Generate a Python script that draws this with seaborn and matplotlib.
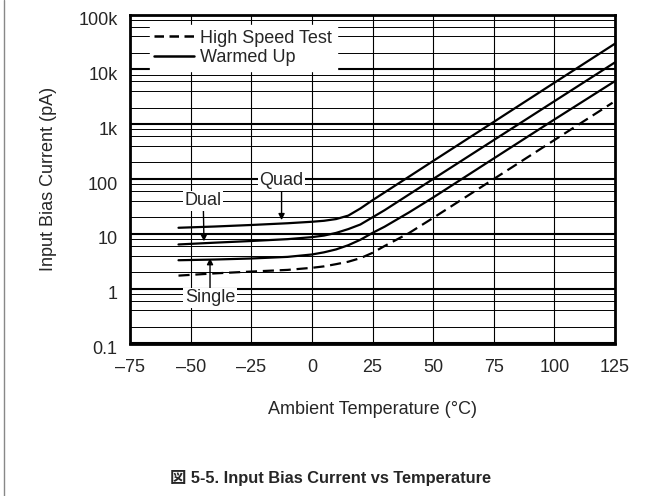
import numpy as np
import pandas as pd
import matplotlib
matplotlib.use("Agg")
import matplotlib.pyplot as plt
import matplotlib.ticker as mticker
import matplotlib.transforms as mtrans
from matplotlib.lines import Line2D
import seaborn as sns

# Curve data (temperature in C, current in pA)
temps = [-55, -40, -25, -10, 0, 5, 10, 15, 20, 25, 30, 40, 50, 75, 100, 125]
quad = [12.9, 13.6, 14.5, 15.6, 16.6, 17.3, 18.6, 21.5, 29, 41, 57, 110, 213, 1100, 5700, 29400]
dual = [6.4, 6.9, 7.4, 8.0, 8.7, 9.3, 10.4, 12.2, 14.8, 20, 27, 52, 100, 512, 2620, 13400]
single = [3.3, 3.4, 3.55, 3.8, 4.2, 4.6, 5.2, 6.2, 7.8, 10.4, 13.5, 24.5, 46, 237, 1216, 6100]

temps_hs = [-55, -40, -25, -10, 0, 5, 10, 15, 20, 25, 30, 40, 50, 75, 100, 124]
high_speed = [1.73, 1.9, 2.05, 2.2, 2.4, 2.55, 2.8, 3.1, 3.6, 4.5, 6.0, 10.3, 19.5, 100, 513, 2460]

x_ticks = [-75, -50, -25, 0, 25, 50, 75, 100, 125]
x_labels = ["\u201375", "\u201350", "\u201325", "0", "25", "50", "75", "100", "125"]
y_ticks = [0.1, 1, 10, 100, 1e3, 1e4, 1e5]
y_labels = ["0.1", "1", "10", "100", "1k", "10k", "100k"]

sns.set_style("white")
plt.rcParams["font.family"] = ["Liberation Sans", "Noto Sans CJK JP", "DejaVu Sans"]
plt.rcParams["font.size"] = 13

fig = plt.figure(figsize=(6.6, 4.96), dpi=100)
ax = fig.add_axes([130 / 660, 1 - 343.5 / 496, 485 / 660, 329 / 496])

# Curves
for vals in [quad, dual, single]:
    sns.lineplot(x=temps, y=vals, ax=ax, color="black", linewidth=1.6)
sns.lineplot(x=temps_hs, y=high_speed, ax=ax, color="black", linewidth=1.6)
ax.lines[-1].set_dashes((5, 2.6))

ax.set_yscale("log")
ax.set_xlim(-75, 125)
ax.set_ylim(0.1, 1e5)
ax.set_xticks(x_ticks)
ax.set_xticklabels(x_labels)
ax.set_yticks(y_ticks)
ax.set_yticklabels(y_labels)
ax.yaxis.set_minor_locator(mticker.LogLocator(base=10, subs=[2, 4, 6, 8], numticks=20))
ax.yaxis.set_minor_formatter(mticker.NullFormatter())
ax.tick_params(axis="both", which="both", length=0)
ax.tick_params(axis="x", pad=11)
ax.tick_params(axis="y", pad=9)

# grid
ax.grid(True, which="major", axis="y", color="black", linewidth=1.5)
ax.grid(True, which="minor", axis="y", color="black", linewidth=0.7)
ax.grid(True, which="major", axis="x", color="black", linewidth=0.8)
ax.set_axisbelow(True)
for s in ax.spines.values():
    s.set_visible(True)
    s.set_color("black")
    s.set_linewidth(2)

# shift y tick labels a little down like the original
off = mtrans.ScaledTranslation(0, -4 / 100, fig.dpi_scale_trans)
for lab in ax.get_yticklabels():
    lab.set_transform(lab.get_transform() + off)

ax.set_xlabel("Ambient Temperature (\u00b0C)", labelpad=18)
ax.set_ylabel("Input Bias Current (pA)", labelpad=15)

# legend
handles = [Line2D([], [], color="black", lw=1.8, dashes=(3.8, 2.2)),
           Line2D([], [], color="black", lw=1.8)]
leg = ax.legend(handles, ["High Speed Test", "Warmed Up"], loc="upper left",
                bbox_to_anchor=(0.041, 0.968), borderaxespad=0, borderpad=0.25,
                labelspacing=0.15, handlelength=2.2, handletextpad=0.35,
                frameon=True, fancybox=False, framealpha=1, fontsize=13)
leg.get_frame().set_edgecolor("white")
leg.get_frame().set_facecolor("white")

# curve labels
box = dict(facecolor="white", edgecolor="none", pad=1)
arrow = dict(arrowstyle="-|>", color="black", lw=1, mutation_scale=9, shrinkA=0, shrinkB=0)
ax.annotate("Quad", xy=(-12.5, 17.8), xytext=(-12.5, 92), ha="center", va="center",
            bbox=box, arrowprops=arrow)
ax.annotate("Dual", xy=(-44.5, 7.3), xytext=(-44.8, 40), ha="center", va="center",
            bbox=box, arrowprops=arrow)
ax.annotate("Single", xy=(-42, 3.6), xytext=(-42, 0.68), ha="center", va="center",
            bbox=box, arrowprops=arrow)

# caption and frame line
fig.text(0.5, 1 - 478 / 496, "\u56f3 5-5. Input Bias Current vs Temperature",
         ha="center", va="center", fontweight="bold", fontsize=11.8)
fig.add_artist(Line2D([3.5 / 660, 3.5 / 660], [0, 1], transform=fig.transFigure,
                      color="#888888", lw=1))

fig.savefig("out.png", dpi=100)
